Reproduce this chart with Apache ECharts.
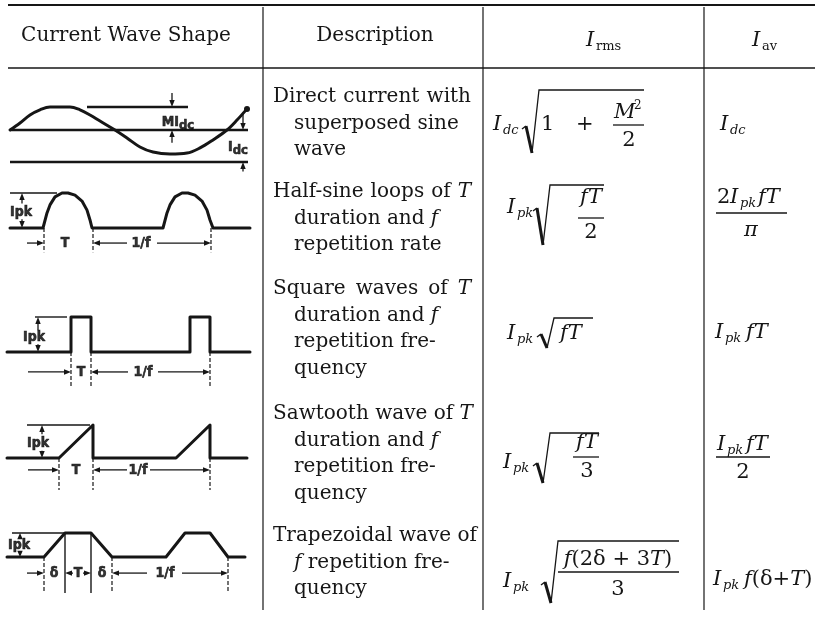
<!DOCTYPE html>
<html lang="en">
<head>
	<meta charset="UTF-8">
	<title>Current wave shapes</title>
	<script src="https://cdn.jsdelivr.net/npm/echarts@6/dist/echarts.min.js"></script>
	<style>
		html, body { margin: 0; background: #fff; }
		#main { width: 823px; height: 619px; }
	</style>
</head>
<body>
	<div id="main"></div>

	<script>
		// ---------- data ----------
		var headers = ['Current Wave Shape', 'Description'];
		var descriptions = [
			['Direct current with', 'superposed sine', 'wave'],
			['Half-sine loops of T', 'duration and f', 'repetition rate'],
			['Square waves of T', 'duration and f', 'repetition fre-', 'quency'],
			['Sawtooth wave of T', 'duration and f', 'repetition fre-', 'quency'],
			['Trapezoidal wave of', 'f repetition fre-', 'quency']
		];

		// wave traces: x along the cell, y in units of the peak (row 1: units of Idc)
		var sineX = [10, 20, 30, 40, 50, 60, 70, 80, 90, 100, 115, 127, 140, 153, 170, 187, 200, 213, 227, 237, 247];
		var sineY = [1.0, 1.22, 1.47, 1.63, 1.72, 1.72, 1.72, 1.63, 1.47, 1.28, 1.0, 0.75, 0.47, 0.31, 0.25, 0.28, 0.44, 0.69, 1.0, 1.31, 1.66];
		var halfX = [10, 43, 47, 50, 55, 62, 68, 75, 82, 87, 90, 92, 163, 167, 170, 175, 182, 188, 195, 202, 207, 210, 213, 250];
		var halfY = [0, 0, 0.43, 0.66, 0.89, 1, 1, 0.94, 0.77, 0.51, 0.23, 0, 0, 0.43, 0.66, 0.89, 1, 1, 0.94, 0.77, 0.51, 0.23, 0, 0];
		var squareX = [7, 71, 71, 91, 91, 190, 190, 210, 210, 250];
		var squareY = [0, 0, 1, 1, 0, 0, 1, 1, 0, 0];
		var sawX = [7, 59, 93, 93, 176, 210, 210, 247];
		var sawY = [0, 0, 1, 0, 0, 1, 0, 0];
		var trapX = [7, 44, 65, 91, 112, 166, 185, 210, 228, 245];
		var trapY = [0, 0, 1, 1, 0, 0, 1, 1, 0, 0];

		// level lines [x1, y1, x2, y2]
		var levels = [
			[[10, 1, 248, 1], [10, 0, 248, 0], [87, 1.72, 188, 1.72]],
			[[10, 1, 57, 1]],
			[[35, 1, 67, 1]],
			[[27, 1, 90, 1]],
			[[12, 1, 65, 1], [65, 1, 65, -1.5], [91, 1, 91, -1.5]]
		];
		// broken extension lines [x1, y1, x2, y2]
		var ticks = [
			[],
			[[44, 0, 44, -0.69], [93, 0, 93, -0.69], [211, 0, 211, -0.69]],
			[[71, 0, 71, -1.0], [91, 0, 91, -1.0], [210, 0, 210, -1.0]],
			[[59, 0, 59, -0.97], [93, 0, 93, -0.97], [210, 0, 210, -0.97]],
			[[44, 0, 44, -1.5], [112, 0, 112, -1.5], [228, 0, 228, -1.5]]
		];
		// dimension arrows, head at the second point
		var arrows = [
			[[172, 2.16, 172, 1.72], [172, 0.6, 172, 1.0], [243, 1.55, 243, 1.0], [243, -0.3, 243, 0]],
			[[22, 0.7, 22, 1], [22, 0.25, 22, 0], [27, -0.43, 44, -0.43], [127, -0.43, 93, -0.43], [157, -0.43, 211, -0.43]],
			[[38, 0.62, 38, 1], [38, 0.22, 38, 0], [28, -0.57, 71, -0.57], [128, -0.57, 91, -0.57], [158, -0.57, 210, -0.57]],
			[[42, 0.72, 42, 1], [42, 0.22, 42, 0], [28, -0.36, 59, -0.36], [127, -0.36, 93, -0.36], [150, -0.36, 210, -0.36]],
			[[20, 0.74, 20, 1], [20, 0.26, 20, 0], [27, -0.67, 44, -0.67], [73, -0.67, 65, -0.67], [83, -0.67, 91, -0.67], [147, -0.67, 112, -0.67], [182, -0.67, 228, -0.67]]
		];
		// lettering on the drawings [x, y, text]
		var waveLabels = [
			[[178, 1.25, '{b|MI}{s|dc}'], [238, 0.47, '{b|I}{s|dc}']],
			[[21, 0.46, 'Ipk'], [65, -0.43, 'T'], [141, -0.43, '1/f']],
			[[34, 0.43, 'Ipk'], [81, -0.57, 'T'], [143, -0.57, '1/f']],
			[[38, 0.45, 'Ipk'], [76, -0.36, 'T'], [138, -0.36, '1/f']],
			[[19, 0.5, 'Ipk'], [54, -0.67, 'δ'], [78, -0.67, 'T'], [102, -0.67, 'δ'], [165, -0.67, '1/f']]
		];

		// ---------- layout ----------
		var ink = '#161616';
		var serif = '"DejaVu Serif", serif';
		var letter = '"DejaVu Sans Condensed", "DejaVu Sans", sans-serif';
		var hdrF = '20px ' + serif;
		var descF = '20px ' + serif;
		var descItF = 'italic 20px ' + serif;
		var itF = 'italic 21px ' + serif;
		var upF = '21px ' + serif;
		var subF = 'italic 13px ' + serif;

		var rowBase = [162, 228, 352, 458, 557];   // pixel of y = 0
		var rowUnit = [32, 35, 35, 33, 24];        // pixels per unit
		var rowRange = [[-0.6, 2.4], [-0.9, 1.2], [-1.2, 1.2], [-1.2, 1.2], [-1.8, 1.3]];
		var levelWidth = [2.4, 1.4, 1.4, 1.4, 1.4];
		var paraTop = [97, 192, 289, 414, 536];
		var lineStep = 26.5;

		var traces = [[sineX, sineY], [halfX, halfY], [squareX, squareY], [sawX, sawY], [trapX, trapY]];

		var mctx = document.createElement('canvas').getContext('2d');
		function measure(s, font) { mctx.font = font; return mctx.measureText(s).width; }

		var mathRich = {
			it: { font: itF, color: ink }
		};

		var g = [];
		function rule(x1, y1, x2, y2, w) {
			g.push({ type: 'line', silent: true, shape: { x1: x1, y1: y1, x2: x2, y2: y2 }, style: { stroke: ink, lineWidth: w } });
		}
		function txt(x, y, s, font, align) {
			g.push({ type: 'text', silent: true, x: x, y: y, style: {
				text: s, font: font, fill: ink, textAlign: align || 'left', textVerticalAlign: 'middle', rich: mathRich } });
		}
		// italic I with a small subscript tucked close to it
		function isub(x, y, s) {
			txt(x, y, 'I', itF);
			txt(x + 10, y + 6, s, subF);
		}
		function radical(x, y, yb, yt, xr) {
			g.push({ type: 'polyline', silent: true, shape: { points: [[x, y + 1], [x + 4, y - 2]] }, style: { stroke: ink, lineWidth: 1.4, fill: null } });
			g.push({ type: 'line', silent: true, shape: { x1: x + 4, y1: y - 2, x2: x + 10, y2: yb }, style: { stroke: ink, lineWidth: 3 } });
			g.push({ type: 'polyline', silent: true, shape: { points: [[x + 10, yb], [x + 17, yt], [xr, yt]] }, style: { stroke: ink, lineWidth: 1.3, fill: null } });
		}
		function bar(x1, x2, y) { rule(x1, y, x2, y, 1.3); }

		// table rules
		rule(8, 5, 815, 5, 2);
		rule(8, 68, 815, 68, 1.5);
		rule(263, 7, 263, 610, 1.2);
		rule(483, 7, 483, 610, 1.2);
		rule(704, 7, 704, 610, 1.2);

		// headers
		txt(126, 36, headers[0], hdrF, 'center');
		txt(375, 36, headers[1], hdrF, 'center');
		txt(586, 41, 'I', itF);
		txt(596, 47, 'rms', '13px ' + serif);
		txt(752, 41, 'I', itF);
		txt(762, 47, 'av', '13px ' + serif);

		// descriptions: hanging indent, first line justified
		descriptions.forEach(function (para, p) {
			para.forEach(function (line, li) {
				var words = line.split(' ');
				var fonts = words.map(function (w) { return (w === 'T' || w === 'f') ? descItF : descF; });
				var widths = words.map(function (w, k) { return measure(w, fonts[k]); });
				var total = widths.reduce(function (a, b) { return a + b; }, 0);
				var x = li === 0 ? 273 : 294;
				var gap = measure(' ', descF);
				if (li === 0 && words.length > 1) {
					var jg = (471 - x - total) / (words.length - 1);
					if (jg > gap) gap = jg;
				}
				words.forEach(function (w, k) {
					txt(x, paraTop[p] + li * lineStep, w, fonts[k]);
					x += widths[k] + gap;
				});
			});
		});

		// I_rms and I_av formulas
		isub(493, 125, 'dc');
		radical(522, 128, 153, 90, 644);
		txt(541, 125, '1', upF); txt(576, 125, '+', upF);
		txt(614, 113, 'M', itF); txt(634, 106, '2', '12px ' + serif);
		bar(613, 644, 125);
		txt(629, 141, '2', upF, 'center');
		isub(720, 125, 'dc');

		isub(507, 208, 'pk');
		radical(533, 210, 245, 185, 604);
		txt(591, 198, 'fT', itF, 'center');
		bar(578, 604, 218);
		txt(591, 233, '2', upF, 'center');
		txt(717, 198, '2', upF); isub(730, 198, 'pk'); txt(758, 198, 'fT', itF);
		bar(716, 787, 213);
		txt(751, 231, 'π', itF, 'center');

		isub(507, 334, 'pk');
		radical(537, 336, 348, 318, 593);
		txt(560, 334, 'fT', itF);
		isub(715, 333, 'pk'); txt(746, 333, 'fT', itF);

		isub(503, 463, 'pk');
		radical(533, 465, 483, 433, 599);
		txt(587, 443, 'fT', itF, 'center');
		bar(573, 599, 457);
		txt(587, 472, '3', upF, 'center');
		isub(717, 445, 'pk'); txt(746, 445, 'fT', itF);
		bar(716, 770, 457);
		txt(743, 473, '2', upF, 'center');

		isub(503, 582, 'pk');
		radical(541, 584, 603, 541, 679);
		txt(618, 560, '{it|f}(2δ + 3{it|T})', upF, 'center');
		bar(558, 679, 572);
		txt(618, 590, '3', upF, 'center');
		isub(713, 580, 'pk'); txt(744, 580, '{it|f}(δ+{it|T})', upF);

		// ---------- wave drawings, one grid per row ----------
		function segRender(kind, width) {
			return function (params, api) {
				var a = api.coord([api.value(0), api.value(1)]);
				var b = api.coord([api.value(2), api.value(3)]);
				if (kind !== 'arrow') {
					return { type: 'line', shape: { x1: a[0], y1: a[1], x2: b[0], y2: b[1] },
						style: { stroke: ink, lineWidth: width, lineDash: kind === 'tick' ? [4, 2] : null } };
				}
				var dx = b[0] - a[0], dy = b[1] - a[1];
				var len = Math.sqrt(dx * dx + dy * dy) || 1;
				var ux = dx / len, uy = dy / len, hl = Math.min(7, len), hw = 2.7;
				var bx = b[0] - ux * hl, by = b[1] - uy * hl;
				return { type: 'group', children: [
					{ type: 'line', shape: { x1: a[0], y1: a[1], x2: bx, y2: by }, style: { stroke: ink, lineWidth: 1.3 } },
					{ type: 'polygon', shape: { points: [[b[0], b[1]], [bx - uy * hw, by + ux * hw], [bx + uy * hw, by - ux * hw]] }, style: { fill: ink } }
				] };
			};
		}

		var grids = [], xAxes = [], yAxes = [], series = [];
		traces.forEach(function (tr, i) {
			var r = rowRange[i];
			grids.push({ left: 0, width: 260, top: rowBase[i] - r[1] * rowUnit[i], height: (r[1] - r[0]) * rowUnit[i] });
			xAxes.push({ type: 'value', gridIndex: i, min: 0, max: 260, show: false });
			yAxes.push({ type: 'value', gridIndex: i, min: r[0], max: r[1], show: false });

			var pts = tr[0].map(function (x, k) { return [x, tr[1][k]]; });
			if (i === 0) pts[pts.length - 1] = { value: pts[pts.length - 1], symbolSize: 6 };
			series.push({
				type: 'line', xAxisIndex: i, yAxisIndex: i, data: pts,
				symbol: 'circle', symbolSize: 0, showAllSymbol: true, smooth: i === 0 ? 0.35 : false,
				itemStyle: { color: ink },
				lineStyle: { color: ink, width: 3, join: 'round', cap: 'round' },
				silent: true, clip: false
			});
			[['level', levels[i], levelWidth[i]], ['tick', ticks[i], 1.2], ['arrow', arrows[i], 1.3]].forEach(function (s) {
				series.push({
					type: 'custom', coordinateSystem: 'cartesian2d', xAxisIndex: i, yAxisIndex: i,
					data: s[1], encode: { x: [0, 2], y: [1, 3] },
					renderItem: segRender(s[0], s[2]), silent: true, clip: false
				});
			});
			series.push({
				type: 'scatter', xAxisIndex: i, yAxisIndex: i, symbolSize: 0,
				itemStyle: { color: ink }, silent: true, clip: false,
				data: waveLabels[i].map(function (l) { return { value: [l[0], l[1]], name: l[2] }; }),
				label: {
					show: true, position: 'inside', color: '#000',
					fontFamily: letter, fontWeight: 'bold', fontSize: 14,
					textBorderColor: '#000', textBorderWidth: 0.6,
					formatter: function (p) { return p.name; },
					rich: {
						b: { fontFamily: letter, fontWeight: 'bold', fontSize: 14, color: '#000', textBorderColor: '#000', textBorderWidth: 0.6 },
						s: { fontFamily: letter, fontWeight: 'bold', fontSize: 13, color: '#000', textBorderColor: '#000', textBorderWidth: 0.6, padding: [8, 0, 0, 0] }
					}
				}
			});
		});

		var chart = echarts.init(document.getElementById('main'));
		chart.setOption({
			backgroundColor: '#fff',
			animation: false,
			grid: grids,
			xAxis: xAxes,
			yAxis: yAxes,
			series: series,
			graphic: { elements: g }
		});
	</script>
</body>
</html>
